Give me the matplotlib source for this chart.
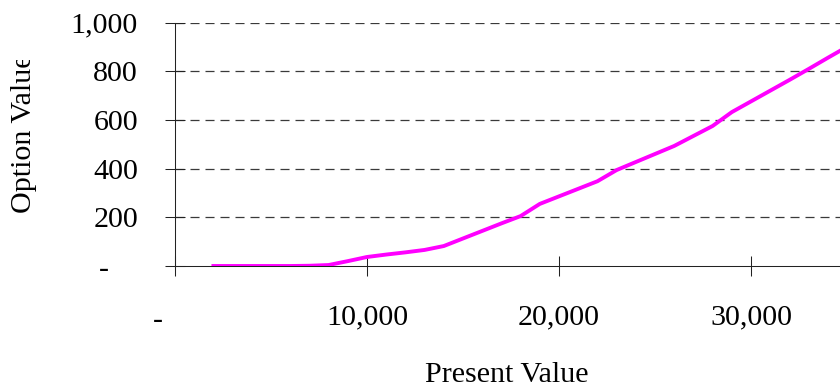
import numpy as np
import matplotlib
matplotlib.use("Agg")
import matplotlib.pyplot as plt
from matplotlib.ticker import FixedLocator, FuncFormatter
from matplotlib.transforms import Bbox, TransformedBbox

# data
present_value = [2000, 3000, 4000, 5000, 6000, 7000, 8000, 9000, 10000, 11000,
                 12000, 13000, 14000, 15000, 16000, 17000, 18000, 19000, 20000,
                 21000, 22000, 23000, 24000, 25000, 26000, 27000, 28000, 29000,
                 30000, 31000, 32000, 33000, 34000, 35000]
option_value = [0, 0, 0, 0, 0, 1, 4, 20, 37, 47,
                56, 66, 82, 113, 144, 175, 205, 255, 286,
                317, 348, 394, 427, 460, 493, 534, 575, 632,
                676, 720, 764, 809, 855, 900]
x_ticks = [0, 10000, 20000, 30000]
y_ticks = [0, 200, 400, 600, 800, 1000]

plt.rcParams['font.family'] = ['Liberation Serif', 'DejaVu Serif']
plt.rcParams['font.size'] = 21.6
plt.rcParams['lines.scale_dashes'] = False

W, H = 840, 388
fig = plt.figure(figsize=(W / 100, H / 100), dpi=100)
ax = fig.add_axes([175 / W, 1 - 266 / H, 665 / W, 243.5 / H])

ax.plot(present_value, option_value, color='#FF00FF', lw=2.8, solid_joinstyle='round', zorder=3)

ax.set_xlim(0, 34635)
ax.set_ylim(0, 1000)

# gridlines
for v in y_ticks[1:]:
    ax.axhline(v, color='#3a3a3a', lw=0.9, linestyle=(0, (6.5, 4.3)), zorder=1)

for s in ['top', 'right']:
    ax.spines[s].set_visible(False)
for s in ['left', 'bottom']:
    ax.spines[s].set_linewidth(0.75)
    ax.spines[s].set_color('#222222')

def fmt(v, pos):
    if v == 0:
        return ''
    return f'{int(v):,}'

ax.xaxis.set_major_locator(FixedLocator(x_ticks))
ax.yaxis.set_major_locator(FixedLocator(y_ticks))
ax.xaxis.set_major_formatter(FuncFormatter(fmt))
ax.yaxis.set_major_formatter(FuncFormatter(fmt))
ax.tick_params(axis='x', direction='inout', length=14.4, width=0.75, color='#222222', pad=20.5)
ax.tick_params(axis='y', direction='inout', length=14.4, width=0.75, color='#222222', pad=19.4)

# accounting-style dash for zero
ax.annotate('-', xy=(0, 0), xycoords='data', xytext=(-12.2, -30), textcoords='offset points',
            ha='center', va='top', annotation_clip=False)
ax.annotate('-', xy=(0, 0), xycoords='data', xytext=(-51.1, -2.9), textcoords='offset points',
            ha='center', va='center', annotation_clip=False)

fig.text(507 / W, 1 - 382 / H, 'Present Value', ha='center', va='baseline')
yl = fig.text(24 / W, 1 - 213 / H, 'Option Value', rotation=90, ha='center', va='bottom')
yl.set_clip_box(TransformedBbox(Bbox([[0, 0], [1, 1 - 60 / H]]), fig.transFigure))
yl.set_clip_on(True)

fig.savefig('out.png', dpi=100)
